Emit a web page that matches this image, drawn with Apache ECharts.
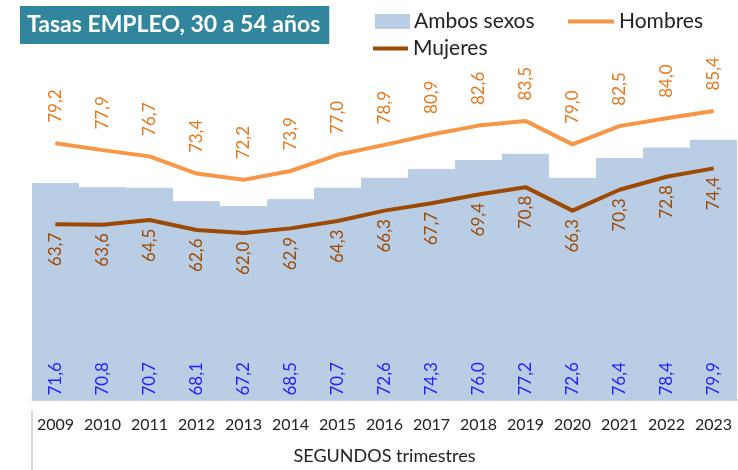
<!DOCTYPE html>
<html>
<head>
<meta charset="utf-8">
<script src="https://cdn.jsdelivr.net/npm/echarts@6/dist/echarts.min.js"></script>
<style>
  html, body { margin: 0; padding: 0; background: #fff; }
  #chart { width: 738px; height: 470px; }
</style>
</head>
<body>
<div id="chart"></div>
<script>
var years = ['2009', '2010', '2011', '2012', '2013', '2014', '2015', '2016', '2017', '2018', '2019', '2020', '2021', '2022', '2023'];
var ambos = [71.6, 70.8, 70.7, 68.1, 67.2, 68.5, 70.7, 72.6, 74.3, 76.0, 77.2, 72.6, 76.4, 78.4, 79.9];
var hombres = [79.2, 77.9, 76.7, 73.4, 72.2, 73.9, 77.0, 78.9, 80.9, 82.6, 83.5, 79.0, 82.5, 84.0, 85.4];
var mujeres = [63.7, 63.6, 64.5, 62.6, 62.0, 62.9, 64.3, 66.3, 67.7, 69.4, 70.8, 66.3, 70.3, 72.8, 74.4];

var FONT = 'Lato, "Open Sans", sans-serif';

// coma decimal
function fmt(p) {
  return p.value.toFixed(1).replace('.', ',');
}

var myChart = echarts.init(document.getElementById('chart'));

myChart.setOption({
  animation: false,
  textStyle: { fontFamily: FONT },
  title: {
    text: 'Tasas EMPLEO, 30 a 54 años',
    left: 20,
    top: 6,
    padding: [7, 9, 7, 7],
    backgroundColor: '#31859C',
    textStyle: { color: '#fff', fontSize: 23, fontWeight: 'bold', fontFamily: FONT, lineHeight: 24 }
  },
  legend: [
    {
      data: ['Ambos sexos'],
      left: 370, top: 6,
      icon: 'rect', itemWidth: 33, itemHeight: 13, itemGap: 4,
      textStyle: { fontSize: 21, color: '#222', fontFamily: FONT }
    },
    {
      data: ['Hombres'],
      left: 563, top: 6,
      icon: 'rect', itemWidth: 46, itemHeight: 4,
      textStyle: { fontSize: 21, color: '#222', fontFamily: FONT }
    },
    {
      data: ['Mujeres'],
      left: 368, top: 33,
      icon: 'rect', itemWidth: 35, itemHeight: 4,
      textStyle: { fontSize: 21, color: '#222', fontFamily: FONT }
    }
  ],
  grid: { left: 32, top: 87, width: 705, bottom: 59 },
  xAxis: {
    type: 'category',
    data: years,
    axisLine: { lineStyle: { color: '#D9D9D9', width: 2 } },
    axisTick: { show: false },
    axisLabel: { color: '#222', fontSize: 16, margin: 17, interval: 0, fontFamily: FONT },
    name: 'SEGUNDOS trimestres',
    nameLocation: 'middle',
    nameGap: 47,
    nameTextStyle: { color: '#222', fontSize: 18, fontFamily: FONT }
  },
  yAxis: {
    type: 'value',
    min: 30, max: 90,
    show: false
  },
  graphic: [
    { type: 'line', shape: { x1: 32, y1: 410, x2: 32, y2: 470 }, style: { stroke: '#D9D9D9', lineWidth: 2 } }
  ],
  series: [
    {
      name: 'Ambos sexos',
      type: 'bar',
      data: ambos,
      barCategoryGap: '0%',
      itemStyle: { color: '#B9CDE5', borderColor: '#B9CDE5', borderWidth: 1 },
      label: {
        show: true, position: 'insideBottom', distance: 5,
        rotate: 90, align: 'left', verticalAlign: 'middle',
        color: '#1F1FFF', fontSize: 17, fontFamily: FONT,
        formatter: fmt
      }
    },
    {
      name: 'Hombres',
      type: 'line',
      data: hombres,
      symbol: 'circle', symbolSize: 1,
      lineStyle: { color: '#F79646', width: 4 },
      itemStyle: { color: '#F79646' },
      label: {
        show: true, position: 'top', distance: 20,
        rotate: 90, align: 'left', verticalAlign: 'middle',
        color: '#E8761A', fontSize: 17, fontFamily: FONT,
        formatter: fmt
      }
    },
    {
      name: 'Mujeres',
      type: 'line',
      data: mujeres,
      symbol: 'circle', symbolSize: 1,
      lineStyle: { color: '#9C4A06', width: 4 },
      itemStyle: { color: '#9C4A06' },
      label: {
        show: true, position: 'bottom', distance: 8,
        rotate: 90, align: 'right', verticalAlign: 'middle',
        color: '#9C4A06', fontSize: 17, fontFamily: FONT,
        formatter: fmt
      }
    }
  ]
});
</script>
</body>
</html>
